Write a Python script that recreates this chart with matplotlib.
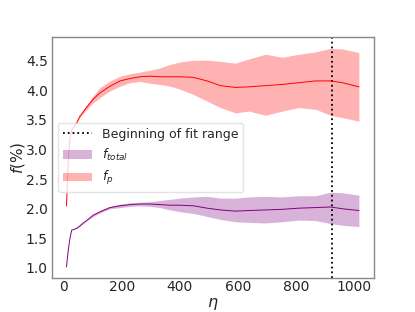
import matplotlib
matplotlib.use('Agg')
import matplotlib.pyplot as plt
import numpy as np

# eta grid
eta = [9, 15, 21, 27, 35, 44, 55, 67, 78, 101, 125, 159, 194, 228, 263, 298,
       332, 367, 401, 447, 494, 540, 592, 638, 696, 753, 811, 869, 920, 961, 1018]

# f_p (red)
fp_mean = [2.05, 2.80, 3.20, 3.33, 3.38, 3.45, 3.56, 3.64, 3.71, 3.85, 3.96, 4.07,
           4.16, 4.20, 4.23, 4.24, 4.23, 4.23, 4.23, 4.22, 4.16, 4.08, 4.05, 4.06,
           4.08, 4.10, 4.13, 4.16, 4.16, 4.13, 4.06]
fp_upper = [2.05, 2.80, 3.20, 3.33, 3.38, 3.46, 3.58, 3.67, 3.75, 3.91, 4.05, 4.16,
            4.24, 4.28, 4.31, 4.34, 4.38, 4.44, 4.48, 4.51, 4.51, 4.49, 4.46, 4.53,
            4.61, 4.56, 4.61, 4.65, 4.71, 4.70, 4.64]
fp_lower = [2.05, 2.80, 3.20, 3.33, 3.38, 3.44, 3.54, 3.61, 3.67, 3.79, 3.88, 3.99,
            4.07, 4.13, 4.15, 4.12, 4.10, 4.07, 4.02, 3.93, 3.82, 3.71, 3.62, 3.65,
            3.58, 3.65, 3.71, 3.68, 3.58, 3.54, 3.48]

# f_total (purple)
ft_mean = [1.02, 1.30, 1.50, 1.64, 1.65, 1.67, 1.71, 1.76, 1.80, 1.89, 1.95, 2.02,
           2.05, 2.07, 2.08, 2.08, 2.07, 2.06, 2.06, 2.05, 2.01, 1.98, 1.96, 1.97,
           1.98, 1.99, 2.01, 2.02, 2.03, 2.00, 1.97]
ft_upper = [1.02, 1.30, 1.50, 1.64, 1.65, 1.675, 1.72, 1.77, 1.81, 1.91, 1.97, 2.04,
            2.08, 2.10, 2.11, 2.12, 2.14, 2.16, 2.18, 2.20, 2.21, 2.18, 2.18, 2.20,
            2.21, 2.20, 2.22, 2.22, 2.28, 2.27, 2.23]
ft_lower = [1.02, 1.30, 1.50, 1.64, 1.65, 1.665, 1.70, 1.75, 1.79, 1.87, 1.93, 2.00,
            2.02, 2.04, 2.05, 2.04, 2.02, 1.98, 1.95, 1.92, 1.87, 1.82, 1.78, 1.77,
            1.76, 1.78, 1.81, 1.80, 1.75, 1.72, 1.70]

fit_start = 925

fig, ax = plt.subplots(figsize=(4.15, 3.12), dpi=100)

ax.axvline(fit_start, color='k', linestyle=':', lw=1.3, label='Beginning of fit range')

ax.plot(eta, ft_mean, color='purple', lw=0.7)
ax.fill_between(eta, ft_lower, ft_upper, color='purple', alpha=0.3, lw=0,
                label='$f_{total}$')

ax.plot(eta, fp_mean, color='red', lw=0.7)
ax.fill_between(eta, fp_lower, fp_upper, color='red', alpha=0.3, lw=0,
                label='$f_p$')

ax.set_xlabel(r'$\eta$', fontsize=11.5, color='#262626', labelpad=1)
ax.set_ylabel(r'$f$(%)', fontsize=11, color='#262626', labelpad=-1)
ax.set_xticks([0, 200, 400, 600, 800, 1000])
ax.set_yticks([1.0, 1.5, 2.0, 2.5, 3.0, 3.5, 4.0, 4.5])
ax.tick_params(length=0, labelsize=10, labelcolor='#262626')
ax.tick_params(axis='x', pad=2)
ax.tick_params(axis='y', pad=3)
for s in ax.spines.values():
    s.set_color('#888888')
    s.set_linewidth(1.0)

leg = ax.legend(loc='center left', fontsize=9, frameon=True, framealpha=0.8,
                edgecolor='#dddddd', borderpad=0.4, handlelength=2.3)
for t in leg.get_texts():
    t.set_color('#262626')

fig.savefig('out.png', dpi=100)
